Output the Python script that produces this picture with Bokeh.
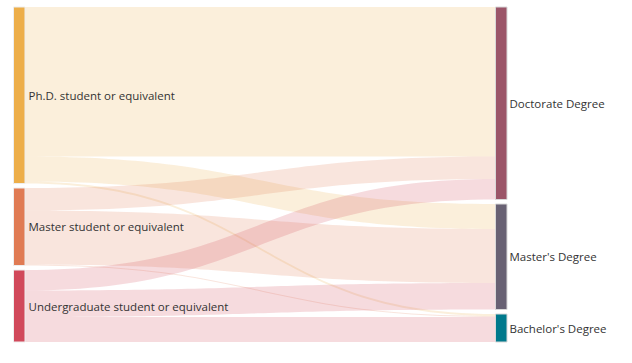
import numpy as np
from bokeh.plotting import figure
from bokeh.models import Range1d, ColumnDataSource
from bokeh.embed import file_html
from bokeh.resources import INLINE
from bokeh.core.properties import value

# ---- data ----
left_nodes = ["Ph.D. student or equivalent",
              "Master student or equivalent",
              "Undergraduate student or equivalent"]
right_nodes = ["Doctorate Degree", "Master's Degree", "Bachelor's Degree"]
left_colors = ["#EDAE49", "#E07B54", "#D1495B"]
right_colors = ["#9B5568", "#686173", "#00798C"]
link_source = [0, 0, 0, 1, 1, 1, 2, 2, 2]
link_target = [0, 1, 2, 0, 1, 2, 0, 1, 2]
link_value = [149.5, 25, 2, 22.5, 54, 1, 20.5, 26.5, 25]

# ---- layout (value units -> 1 unit per pixel via the y scale) ----
W, H = 632, 363
top0 = 6.5
pad = 4.5
lx0, lx1 = 13, 24.5
rx0, rx1 = 495, 506.5

lv = np.array(link_value, dtype=float)
ls = np.array(link_source)
lt = np.array(link_target)
left_tot = np.array([lv[ls == i].sum() for i in range(len(left_nodes))])
right_tot = np.array([lv[lt == j].sum() for j in range(len(right_nodes))])

def stack(tots):
    tops, y = [], top0
    for t in tots:
        tops.append(y)
        y += t + pad
    return np.array(tops)

left_top = stack(left_tot)
right_top = stack(right_tot)

p = figure(width=W, height=H, x_range=Range1d(0, W), y_range=Range1d(H, 0),
           toolbar_location=None, output_backend="svg", min_border=0,
           x_axis_location=None, y_axis_location=None)
p.grid.visible = False
p.outline_line_color = None

# links
s_off = left_top.copy()
t_off = right_top.copy()
order_src = sorted(range(len(lv)), key=lambda k: (ls[k], lt[k]))
sy = {}
for k in order_src:
    sy[k] = s_off[ls[k]]
    s_off[ls[k]] += lv[k]
order_tgt = sorted(range(len(lv)), key=lambda k: (lt[k], ls[k]))
ty = {}
for k in order_tgt:
    ty[k] = t_off[lt[k]]
    t_off[lt[k]] += lv[k]

t = np.linspace(0, 1, 60)
x0, x1 = lx1, rx0
cx = (x0 + x1) / 2
bx = (1 - t) ** 3 * x0 + 3 * (1 - t) ** 2 * t * cx + 3 * (1 - t) * t ** 2 * cx + t ** 3 * x1
def by(y0, y1):
    return (1 - t) ** 3 * y0 + 3 * (1 - t) ** 2 * t * y0 + 3 * (1 - t) * t ** 2 * y1 + t ** 3 * y1

xs, ys, cols = [], [], []
for k in range(len(lv)):
    top = by(sy[k], ty[k])
    bot = by(sy[k] + lv[k], ty[k] + lv[k])
    xs.append(list(bx) + list(bx[::-1]))
    ys.append(list(top) + list(bot[::-1]))
    cols.append(left_colors[ls[k]])
p.patches(xs=xs, ys=ys, fill_color=cols, fill_alpha=0.2, line_color=None)

# nodes
p.quad(left=[lx0] * 3, right=[lx1] * 3, top=list(left_top),
       bottom=list(left_top + left_tot), fill_color=left_colors,
       line_color="#eeeeee", line_width=1)
p.quad(left=[rx0] * 3, right=[rx1] * 3, top=list(right_top),
       bottom=list(right_top + right_tot), fill_color=right_colors,
       line_color="#d8d8d8", line_width=1)

# labels
p.text(x=[lx1 + 3.5] * 3, y=list(left_top + left_tot / 2), text=left_nodes,
       text_font=value("Open Sans"), text_font_size="11.5px", text_color="#333333",
       text_baseline="middle", text_align="left")
p.text(x=[rx1 + 2.5] * 3, y=list(right_top + right_tot / 2), text=right_nodes,
       text_font=value("Open Sans"), text_font_size="11.5px", text_color="#333333",
       text_baseline="middle", text_align="left")

open("out.html", "w").write(file_html(p, INLINE))
